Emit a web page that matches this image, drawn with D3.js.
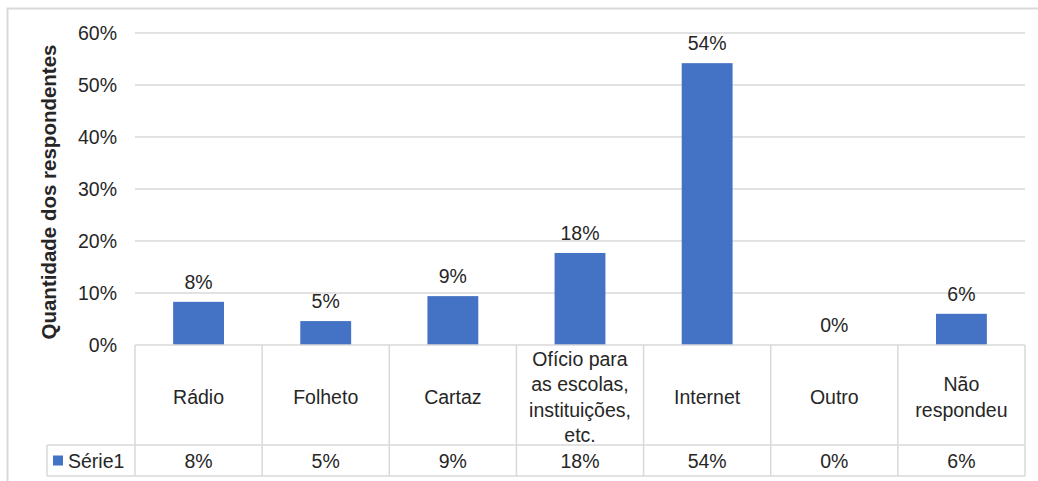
<!DOCTYPE html>
<html lang="pt">
<head>
  <meta charset="UTF-8">
  <title>Quantidade dos respondentes</title>
  <script src="https://d3js.org/d3.v7.min.js"></script>
  <style>
    body { margin: 0; background: #fff; }
    svg { display: block; font-family: "Liberation Sans", Arial, sans-serif; }
  </style>
</head>
<body>
  <div id="chart"></div>
  <script>
    // data
    const categories = [["Rádio"], ["Folheto"], ["Cartaz"],
      ["Ofício para", "as escolas,", "instituições,", "etc."],
      ["Internet"], ["Outro"], ["Não", "respondeu"]];
    const values = [0.083, 0.046, 0.094, 0.177, 0.542, 0, 0.06];
    const labels = ["8%", "5%", "9%", "18%", "54%", "0%", "6%"];
    const seriesName = "Série1";
    const yTicks = [0, 0.1, 0.2, 0.3, 0.4, 0.5, 0.6];

    const width = 1038, height = 481;
    const plotLeft = 135, plotRight = 1025, plotTop = 33, plotBase = 345; // plot area
    const tableRowBottom = 445, tableBottom = 476, legendLeft = 47;
    const textColor = "#262626", gridColor = "#d9d9d9", barColor = "#4472C4";
    const fs = 19.5;

    const svg = d3.select("#chart").append("svg")
      .attr("width", width)
      .attr("height", height);

    // outer chart frame
    svg.append("rect")
      .attr("x", 7.5).attr("y", 8.5)
      .attr("width", width + 10).attr("height", height + 10)
      .attr("fill", "none").attr("stroke", gridColor).attr("stroke-width", 2);

    const x = d3.scaleBand()
      .domain(d3.range(categories.length))
      .range([plotLeft, plotRight]);

    const y = d3.scaleLinear()
      .domain([0, 0.6])
      .range([plotBase, plotTop]);

    // gridlines
    svg.selectAll("line.grid")
      .data(yTicks.slice(1))
      .join("line")
      .attr("class", "grid")
      .attr("x1", plotLeft).attr("x2", plotRight)
      .attr("y1", d => y(d)).attr("y2", d => y(d))
      .attr("stroke", gridColor).attr("stroke-width", 1.5);

    // y tick labels
    svg.selectAll("text.ytick")
      .data(yTicks)
      .join("text")
      .attr("class", "ytick")
      .attr("x", 117)
      .attr("y", d => y(d))
      .attr("dy", "0.36em")
      .attr("text-anchor", "end")
      .attr("font-size", fs)
      .attr("fill", textColor)
      .text(d3.format(".0%"));

    // y title
    svg.append("text")
      .attr("transform", `translate(56,${(plotTop + plotBase) / 2 + 3}) rotate(-90)`)
      .attr("text-anchor", "middle")
      .attr("font-size", 20.5)
      .attr("font-weight", "bold")
      .attr("fill", textColor)
      .text("Quantidade dos respondentes");

    // bars
    const barW = x.bandwidth() * 0.4;
    svg.selectAll("rect.bar")
      .data(values)
      .join("rect")
      .attr("class", "bar")
      .attr("x", (d, i) => x(i) + (x.bandwidth() - barW) / 2)
      .attr("y", d => y(d))
      .attr("width", barW)
      .attr("height", d => plotBase - y(d))
      .attr("fill", barColor);

    // data labels
    svg.selectAll("text.dlabel")
      .data(values)
      .join("text")
      .attr("class", "dlabel")
      .attr("x", (d, i) => x(i) + x.bandwidth() / 2)
      .attr("y", d => y(d) - 13)
      .attr("text-anchor", "middle")
      .attr("font-size", fs)
      .attr("fill", textColor)
      .text((d, i) => labels[i]);

    // data table lines
    const tbl = svg.append("g").attr("stroke", gridColor).attr("stroke-width", 1.5);
    tbl.append("line").attr("x1", plotLeft).attr("x2", plotRight).attr("y1", plotBase).attr("y2", plotBase);
    tbl.append("line").attr("x1", legendLeft).attr("x2", plotRight).attr("y1", tableRowBottom).attr("y2", tableRowBottom);
    tbl.append("line").attr("x1", legendLeft).attr("x2", plotRight).attr("y1", tableBottom).attr("y2", tableBottom);
    tbl.append("line").attr("x1", legendLeft).attr("x2", legendLeft).attr("y1", tableRowBottom).attr("y2", tableBottom);
    tbl.selectAll("line.v")
      .data(d3.range(categories.length + 1))
      .join("line")
      .attr("class", "v")
      .attr("x1", i => i < categories.length ? x(i) : plotRight)
      .attr("x2", i => i < categories.length ? x(i) : plotRight)
      .attr("y1", plotBase).attr("y2", tableBottom);

    // category labels (multi-line)
    const lineH = 25.5;
    svg.selectAll("text.cat")
      .data(categories)
      .join("text")
      .attr("class", "cat")
      .attr("text-anchor", "middle")
      .attr("font-size", fs)
      .attr("fill", textColor)
      .each(function (lines, i) {
        const cy = (plotBase + tableRowBottom) / 2 + 2;
        const y0 = cy - (lines.length - 1) * lineH / 2;
        d3.select(this).selectAll("tspan")
          .data(lines)
          .join("tspan")
          .attr("x", x(i) + x.bandwidth() / 2)
          .attr("y", (d, k) => y0 + k * lineH)
          .attr("dy", "0.36em")
          .text(d => d);
      });

    // value row
    const rowY = (tableRowBottom + tableBottom) / 2;
    svg.selectAll("text.tval")
      .data(labels)
      .join("text")
      .attr("class", "tval")
      .attr("x", (d, i) => x(i) + x.bandwidth() / 2)
      .attr("y", rowY)
      .attr("dy", "0.36em")
      .attr("text-anchor", "middle")
      .attr("font-size", fs)
      .attr("fill", textColor)
      .text(d => d);

    // legend key in the table
    svg.append("rect")
      .attr("x", 53).attr("y", rowY - 5)
      .attr("width", 10).attr("height", 10)
      .attr("fill", barColor);
    svg.append("text")
      .attr("x", 68).attr("y", rowY)
      .attr("dy", "0.36em")
      .attr("font-size", fs)
      .attr("fill", textColor)
      .text(seriesName);
  </script>
</body>
</html>
